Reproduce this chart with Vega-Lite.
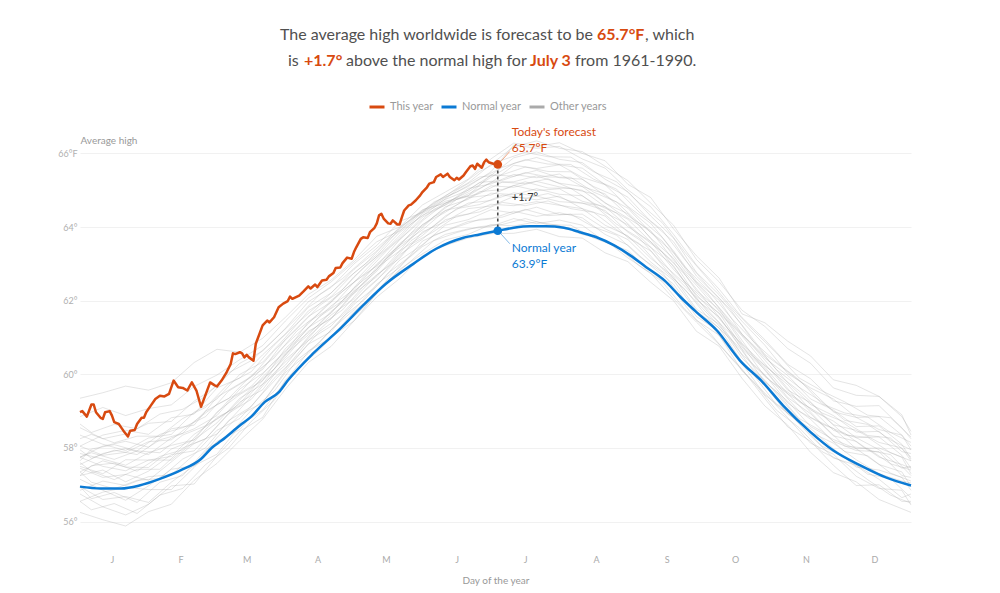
{
  "$schema": "https://vega.github.io/schema/vega-lite/v6.json",
  "width": 831,
  "height": 405,
  "autosize": {"type": "none"},
  "padding": {"left": 80, "top": 135, "right": 89, "bottom": 53},
  "background": "white",
  "config": {
    "font": "Lato",
    "view": {"stroke": null},
    "legend": {"padding": 0}
  },
  "datasets": {
    "others": [
      {"y":"a","d":1,"t":56.25},{"y":"a","d":11,"t":56.05},{"y":"a","d":21,"t":55.88},{"y":"a","d":31,"t":56.27},{"y":"a","d":41,"t":56.47},{"y":"a","d":51,"t":57.12},{"y":"a","d":61,"t":57.58},{"y":"a","d":71,"t":58.2},{"y":"a","d":81,"t":58.78},{"y":"a","d":91,"t":59.6},{"y":"a","d":101,"t":60.32},{"y":"a","d":111,"t":60.76},{"y":"a","d":121,"t":61.45},{"y":"a","d":131,"t":62.1},{"y":"a","d":141,"t":62.6},{"y":"a","d":151,"t":63.22},{"y":"a","d":161,"t":63.5},{"y":"a","d":171,"t":63.7},{"y":"a","d":181,"t":63.82},{"y":"a","d":191,"t":63.83},{"y":"a","d":201,"t":63.94},{"y":"a","d":211,"t":63.74},{"y":"a","d":221,"t":63.7},{"y":"a","d":231,"t":63.3},{"y":"a","d":241,"t":63.06},{"y":"a","d":251,"t":62.5},{"y":"a","d":261,"t":62.0},{"y":"a","d":271,"t":61.17},{"y":"a","d":281,"t":60.76},{"y":"a","d":291,"t":59.89},{"y":"a","d":301,"t":59.14},{"y":"a","d":311,"t":58.62},{"y":"a","d":321,"t":57.88},{"y":"a","d":331,"t":57.33},{"y":"a","d":341,"t":57.08},{"y":"a","d":351,"t":56.6},{"y":"a","d":361,"t":56.35},{"y":"a","d":365,"t":56.25},
      {"y":"b","d":1,"t":56.75},{"y":"b","d":11,"t":56.4},{"y":"b","d":21,"t":56.18},{"y":"b","d":31,"t":56.47},{"y":"b","d":41,"t":56.97},{"y":"b","d":51,"t":57.02},{"y":"b","d":61,"t":57.78},{"y":"b","d":71,"t":58.45},{"y":"b","d":81,"t":58.83},{"y":"b","d":91,"t":59.85},{"y":"b","d":101,"t":60.42},{"y":"b","d":111,"t":61.01},{"y":"b","d":121,"t":61.45},{"y":"b","d":131,"t":62.2},{"y":"b","d":141,"t":62.85},{"y":"b","d":151,"t":63.27},{"y":"b","d":161,"t":63.65},{"y":"b","d":171,"t":63.8},{"y":"b","d":181,"t":64.07},{"y":"b","d":191,"t":64.03},{"y":"b","d":201,"t":64.14},{"y":"b","d":211,"t":64.04},{"y":"b","d":221,"t":63.8},{"y":"b","d":231,"t":63.65},{"y":"b","d":241,"t":63.16},{"y":"b","d":251,"t":62.75},{"y":"b","d":261,"t":62.05},{"y":"b","d":271,"t":61.42},{"y":"b","d":281,"t":60.81},{"y":"b","d":291,"t":60.14},{"y":"b","d":301,"t":59.34},{"y":"b","d":311,"t":58.57},{"y":"b","d":321,"t":58.18},{"y":"b","d":331,"t":57.53},{"y":"b","d":341,"t":56.98},{"y":"b","d":351,"t":57.0},{"y":"b","d":361,"t":56.55},{"y":"b","d":365,"t":56.55},
      {"y":"c","d":1,"t":56.95},{"y":"c","d":11,"t":56.6},{"y":"c","d":21,"t":56.68},{"y":"c","d":31,"t":56.52},{"y":"c","d":41,"t":57.07},{"y":"c","d":51,"t":57.52},{"y":"c","d":61,"t":57.83},{"y":"c","d":71,"t":58.6},{"y":"c","d":81,"t":59.03},{"y":"c","d":91,"t":59.8},{"y":"c","d":101,"t":60.62},{"y":"c","d":111,"t":61.01},{"y":"c","d":121,"t":61.7},{"y":"c","d":131,"t":62.25},{"y":"c","d":141,"t":62.95},{"y":"c","d":151,"t":63.47},{"y":"c","d":161,"t":63.8},{"y":"c","d":171,"t":63.95},{"y":"c","d":181,"t":64.02},{"y":"c","d":191,"t":64.23},{"y":"c","d":201,"t":64.09},{"y":"c","d":211,"t":64.19},{"y":"c","d":221,"t":64.05},{"y":"c","d":231,"t":63.6},{"y":"c","d":241,"t":63.36},{"y":"c","d":251,"t":62.8},{"y":"c","d":261,"t":62.3},{"y":"c","d":271,"t":61.47},{"y":"c","d":281,"t":61.06},{"y":"c","d":291,"t":60.09},{"y":"c","d":301,"t":59.49},{"y":"c","d":311,"t":58.82},{"y":"c","d":321,"t":58.13},{"y":"c","d":331,"t":57.83},{"y":"c","d":341,"t":57.23},{"y":"c","d":351,"t":56.9},{"y":"c","d":361,"t":56.85},{"y":"c","d":365,"t":56.45},
      {"y":"d","d":1,"t":56.55},{"y":"d","d":11,"t":56.8},{"y":"d","d":21,"t":56.93},{"y":"d","d":31,"t":56.87},{"y":"d","d":41,"t":56.87},{"y":"d","d":51,"t":57.47},{"y":"d","d":61,"t":58.18},{"y":"d","d":71,"t":58.5},{"y":"d","d":81,"t":59.23},{"y":"d","d":91,"t":60.05},{"y":"d","d":101,"t":60.57},{"y":"d","d":111,"t":61.21},{"y":"d","d":121,"t":61.75},{"y":"d","d":131,"t":62.45},{"y":"d","d":141,"t":62.9},{"y":"d","d":151,"t":63.62},{"y":"d","d":161,"t":63.9},{"y":"d","d":171,"t":64.15},{"y":"d","d":181,"t":64.22},{"y":"d","d":191,"t":64.43},{"y":"d","d":201,"t":64.29},{"y":"d","d":211,"t":64.39},{"y":"d","d":221,"t":64.25},{"y":"d","d":231,"t":63.8},{"y":"d","d":241,"t":63.51},{"y":"d","d":251,"t":62.95},{"y":"d","d":261,"t":62.45},{"y":"d","d":271,"t":61.57},{"y":"d","d":281,"t":61.16},{"y":"d","d":291,"t":60.29},{"y":"d","d":301,"t":59.44},{"y":"d","d":311,"t":58.97},{"y":"d","d":321,"t":58.33},{"y":"d","d":331,"t":57.73},{"y":"d","d":341,"t":57.53},{"y":"d","d":351,"t":57.15},{"y":"d","d":361,"t":56.65},{"y":"d","d":365,"t":56.75},
      {"y":"e","d":1,"t":57.15},{"y":"e","d":11,"t":56.85},{"y":"e","d":21,"t":56.58},{"y":"e","d":31,"t":56.97},{"y":"e","d":41,"t":57.42},{"y":"e","d":51,"t":57.52},{"y":"e","d":61,"t":58.28},{"y":"e","d":71,"t":58.9},{"y":"e","d":81,"t":59.23},{"y":"e","d":91,"t":60.1},{"y":"e","d":101,"t":60.82},{"y":"e","d":111,"t":61.16},{"y":"e","d":121,"t":61.9},{"y":"e","d":131,"t":62.4},{"y":"e","d":141,"t":63.1},{"y":"e","d":151,"t":63.52},{"y":"e","d":161,"t":64.05},{"y":"e","d":171,"t":64.2},{"y":"e","d":181,"t":64.47},{"y":"e","d":191,"t":64.38},{"y":"e","d":201,"t":64.54},{"y":"e","d":211,"t":64.34},{"y":"e","d":221,"t":64.35},{"y":"e","d":231,"t":63.95},{"y":"e","d":241,"t":63.66},{"y":"e","d":251,"t":63.05},{"y":"e","d":261,"t":62.55},{"y":"e","d":271,"t":61.72},{"y":"e","d":281,"t":61.26},{"y":"e","d":291,"t":60.34},{"y":"e","d":301,"t":59.69},{"y":"e","d":311,"t":58.92},{"y":"e","d":321,"t":58.53},{"y":"e","d":331,"t":57.98},{"y":"e","d":341,"t":57.48},{"y":"e","d":351,"t":57.4},{"y":"e","d":361,"t":57.2},{"y":"e","d":365,"t":56.85},
      {"y":"f","d":1,"t":56.85},{"y":"f","d":11,"t":57.1},{"y":"f","d":21,"t":56.98},{"y":"f","d":31,"t":57.22},{"y":"f","d":41,"t":57.27},{"y":"f","d":51,"t":57.82},{"y":"f","d":61,"t":58.48},{"y":"f","d":71,"t":58.8},{"y":"f","d":81,"t":59.48},{"y":"f","d":91,"t":60.15},{"y":"f","d":101,"t":60.92},{"y":"f","d":111,"t":61.31},{"y":"f","d":121,"t":62.0},{"y":"f","d":131,"t":62.55},{"y":"f","d":141,"t":63.25},{"y":"f","d":151,"t":63.67},{"y":"f","d":161,"t":64.2},{"y":"f","d":171,"t":64.35},{"y":"f","d":181,"t":64.62},{"y":"f","d":191,"t":64.58},{"y":"f","d":201,"t":64.69},{"y":"f","d":211,"t":64.59},{"y":"f","d":221,"t":64.5},{"y":"f","d":231,"t":64.05},{"y":"f","d":241,"t":63.76},{"y":"f","d":251,"t":63.15},{"y":"f","d":261,"t":62.65},{"y":"f","d":271,"t":61.77},{"y":"f","d":281,"t":61.36},{"y":"f","d":291,"t":60.44},{"y":"f","d":301,"t":59.84},{"y":"f","d":311,"t":59.12},{"y":"f","d":321,"t":58.43},{"y":"f","d":331,"t":58.13},{"y":"f","d":341,"t":57.68},{"y":"f","d":351,"t":57.3},{"y":"f","d":361,"t":57.1},{"y":"f","d":365,"t":57.05},
      {"y":"g","d":1,"t":57.45},{"y":"g","d":11,"t":57.2},{"y":"g","d":21,"t":57.28},{"y":"g","d":31,"t":57.12},{"y":"g","d":41,"t":57.62},{"y":"g","d":51,"t":58.12},{"y":"g","d":61,"t":58.38},{"y":"g","d":71,"t":59.05},{"y":"g","d":81,"t":59.73},{"y":"g","d":91,"t":60.25},{"y":"g","d":101,"t":61.02},{"y":"g","d":111,"t":61.61},{"y":"g","d":121,"t":62.05},{"y":"g","d":131,"t":62.7},{"y":"g","d":141,"t":63.15},{"y":"g","d":151,"t":63.87},{"y":"g","d":161,"t":64.15},{"y":"g","d":171,"t":64.5},{"y":"g","d":181,"t":64.57},{"y":"g","d":191,"t":64.83},{"y":"g","d":201,"t":64.74},{"y":"g","d":211,"t":64.84},{"y":"g","d":221,"t":64.5},{"y":"g","d":231,"t":64.3},{"y":"g","d":241,"t":63.71},{"y":"g","d":251,"t":63.35},{"y":"g","d":261,"t":62.6},{"y":"g","d":271,"t":61.97},{"y":"g","d":281,"t":61.31},{"y":"g","d":291,"t":60.64},{"y":"g","d":301,"t":59.79},{"y":"g","d":311,"t":59.27},{"y":"g","d":321,"t":58.58},{"y":"g","d":331,"t":58.23},{"y":"g","d":341,"t":57.98},{"y":"g","d":351,"t":57.55},{"y":"g","d":361,"t":57.35},{"y":"g","d":365,"t":56.95},
      {"y":"h","d":1,"t":57.25},{"y":"h","d":11,"t":57.4},{"y":"h","d":21,"t":57.08},{"y":"h","d":31,"t":57.37},{"y":"h","d":41,"t":57.82},{"y":"h","d":51,"t":57.92},{"y":"h","d":61,"t":58.58},{"y":"h","d":71,"t":59.25},{"y":"h","d":81,"t":59.58},{"y":"h","d":91,"t":60.4},{"y":"h","d":101,"t":60.92},{"y":"h","d":111,"t":61.51},{"y":"h","d":121,"t":62.2},{"y":"h","d":131,"t":62.65},{"y":"h","d":141,"t":63.35},{"y":"h","d":151,"t":63.77},{"y":"h","d":161,"t":64.3},{"y":"h","d":171,"t":64.65},{"y":"h","d":181,"t":64.72},{"y":"h","d":191,"t":64.93},{"y":"h","d":201,"t":64.84},{"y":"h","d":211,"t":64.69},{"y":"h","d":221,"t":64.65},{"y":"h","d":231,"t":64.45},{"y":"h","d":241,"t":63.86},{"y":"h","d":251,"t":63.45},{"y":"h","d":261,"t":62.7},{"y":"h","d":271,"t":62.07},{"y":"h","d":281,"t":61.41},{"y":"h","d":291,"t":60.54},{"y":"h","d":301,"t":59.99},{"y":"h","d":311,"t":59.22},{"y":"h","d":321,"t":58.78},{"y":"h","d":331,"t":58.18},{"y":"h","d":341,"t":57.93},{"y":"h","d":351,"t":57.9},{"y":"h","d":361,"t":57.25},{"y":"h","d":365,"t":57.2},
      {"y":"i","d":1,"t":57.75},{"y":"i","d":11,"t":57.5},{"y":"i","d":21,"t":57.38},{"y":"i","d":31,"t":57.67},{"y":"i","d":41,"t":57.67},{"y":"i","d":51,"t":58.17},{"y":"i","d":61,"t":58.83},{"y":"i","d":71,"t":59.15},{"y":"i","d":81,"t":59.83},{"y":"i","d":91,"t":60.45},{"y":"i","d":101,"t":61.17},{"y":"i","d":111,"t":61.51},{"y":"i","d":121,"t":62.25},{"y":"i","d":131,"t":62.8},{"y":"i","d":141,"t":63.5},{"y":"i","d":151,"t":63.92},{"y":"i","d":161,"t":64.45},{"y":"i","d":171,"t":64.6},{"y":"i","d":181,"t":64.92},{"y":"i","d":191,"t":64.88},{"y":"i","d":201,"t":65.04},{"y":"i","d":211,"t":64.89},{"y":"i","d":221,"t":64.85},{"y":"i","d":231,"t":64.4},{"y":"i","d":241,"t":64.06},{"y":"i","d":251,"t":63.45},{"y":"i","d":261,"t":62.95},{"y":"i","d":271,"t":62.02},{"y":"i","d":281,"t":61.56},{"y":"i","d":291,"t":60.69},{"y":"i","d":301,"t":60.14},{"y":"i","d":311,"t":59.37},{"y":"i","d":321,"t":58.93},{"y":"i","d":331,"t":58.33},{"y":"i","d":341,"t":58.18},{"y":"i","d":351,"t":57.75},{"y":"i","d":361,"t":57.55},{"y":"i","d":365,"t":57.45},
      {"y":"j","d":1,"t":57.35},{"y":"j","d":11,"t":57.65},{"y":"j","d":21,"t":57.48},{"y":"j","d":31,"t":57.47},{"y":"j","d":41,"t":57.97},{"y":"j","d":51,"t":58.22},{"y":"j","d":61,"t":58.68},{"y":"j","d":71,"t":59.35},{"y":"j","d":81,"t":59.73},{"y":"j","d":91,"t":60.55},{"y":"j","d":101,"t":61.07},{"y":"j","d":111,"t":61.71},{"y":"j","d":121,"t":62.2},{"y":"j","d":131,"t":62.9},{"y":"j","d":141,"t":63.35},{"y":"j","d":151,"t":64.07},{"y":"j","d":161,"t":64.4},{"y":"j","d":171,"t":64.8},{"y":"j","d":181,"t":64.87},{"y":"j","d":191,"t":65.13},{"y":"j","d":201,"t":64.99},{"y":"j","d":211,"t":65.04},{"y":"j","d":221,"t":64.7},{"y":"j","d":231,"t":64.55},{"y":"j","d":241,"t":64.01},{"y":"j","d":251,"t":63.6},{"y":"j","d":261,"t":62.85},{"y":"j","d":271,"t":62.17},{"y":"j","d":281,"t":61.51},{"y":"j","d":291,"t":60.79},{"y":"j","d":301,"t":59.94},{"y":"j","d":311,"t":59.47},{"y":"j","d":321,"t":58.83},{"y":"j","d":331,"t":58.53},{"y":"j","d":341,"t":57.98},{"y":"j","d":351,"t":58.0},{"y":"j","d":361,"t":57.75},{"y":"j","d":365,"t":57.3},
      {"y":"k","d":1,"t":57.5},{"y":"k","d":11,"t":57.3},{"y":"k","d":21,"t":57.68},{"y":"k","d":31,"t":57.67},{"y":"k","d":41,"t":57.77},{"y":"k","d":51,"t":58.37},{"y":"k","d":61,"t":58.78},{"y":"k","d":71,"t":59.2},{"y":"k","d":81,"t":59.93},{"y":"k","d":91,"t":60.55},{"y":"k","d":101,"t":61.27},{"y":"k","d":111,"t":61.66},{"y":"k","d":121,"t":62.35},{"y":"k","d":131,"t":62.85},{"y":"k","d":141,"t":63.55},{"y":"k","d":151,"t":64.02},{"y":"k","d":161,"t":64.55},{"y":"k","d":171,"t":64.75},{"y":"k","d":181,"t":65.12},{"y":"k","d":191,"t":65.08},{"y":"k","d":201,"t":65.24},{"y":"k","d":211,"t":65.09},{"y":"k","d":221,"t":65.0},{"y":"k","d":231,"t":64.55},{"y":"k","d":241,"t":64.21},{"y":"k","d":251,"t":63.6},{"y":"k","d":261,"t":63.05},{"y":"k","d":271,"t":62.12},{"y":"k","d":281,"t":61.66},{"y":"k","d":291,"t":60.74},{"y":"k","d":301,"t":60.19},{"y":"k","d":311,"t":59.47},{"y":"k","d":321,"t":59.08},{"y":"k","d":331,"t":58.48},{"y":"k","d":341,"t":58.28},{"y":"k","d":351,"t":57.95},{"y":"k","d":361,"t":57.45},{"y":"k","d":365,"t":57.5},
      {"y":"l","d":1,"t":57.85},{"y":"l","d":11,"t":57.7},{"y":"l","d":21,"t":57.53},{"y":"l","d":31,"t":57.87},{"y":"l","d":41,"t":58.07},{"y":"l","d":51,"t":58.22},{"y":"l","d":61,"t":58.98},{"y":"l","d":71,"t":59.45},{"y":"l","d":81,"t":59.83},{"y":"l","d":91,"t":60.7},{"y":"l","d":101,"t":61.27},{"y":"l","d":111,"t":61.86},{"y":"l","d":121,"t":62.3},{"y":"l","d":131,"t":63.0},{"y":"l","d":141,"t":63.5},{"y":"l","d":151,"t":64.17},{"y":"l","d":161,"t":64.65},{"y":"l","d":171,"t":64.85},{"y":"l","d":181,"t":65.22},{"y":"l","d":191,"t":65.23},{"y":"l","d":201,"t":65.39},{"y":"l","d":211,"t":65.19},{"y":"l","d":221,"t":65.1},{"y":"l","d":231,"t":64.65},{"y":"l","d":241,"t":64.36},{"y":"l","d":251,"t":63.7},{"y":"l","d":261,"t":63.15},{"y":"l","d":271,"t":62.27},{"y":"l","d":281,"t":61.76},{"y":"l","d":291,"t":60.84},{"y":"l","d":301,"t":60.24},{"y":"l","d":311,"t":59.72},{"y":"l","d":321,"t":59.03},{"y":"l","d":331,"t":58.73},{"y":"l","d":341,"t":58.28},{"y":"l","d":351,"t":58.3},{"y":"l","d":361,"t":57.8},{"y":"l","d":365,"t":57.45},
      {"y":"m","d":1,"t":57.55},{"y":"m","d":11,"t":57.85},{"y":"m","d":21,"t":57.98},{"y":"m","d":31,"t":57.82},{"y":"m","d":41,"t":58.27},{"y":"m","d":51,"t":58.52},{"y":"m","d":61,"t":58.88},{"y":"m","d":71,"t":59.6},{"y":"m","d":81,"t":60.03},{"y":"m","d":91,"t":60.6},{"y":"m","d":101,"t":61.42},{"y":"m","d":111,"t":61.81},{"y":"m","d":121,"t":62.5},{"y":"m","d":131,"t":62.95},{"y":"m","d":141,"t":63.65},{"y":"m","d":151,"t":64.27},{"y":"m","d":161,"t":64.6},{"y":"m","d":171,"t":65.05},{"y":"m","d":181,"t":65.17},{"y":"m","d":191,"t":65.43},{"y":"m","d":201,"t":65.34},{"y":"m","d":211,"t":65.44},{"y":"m","d":221,"t":65.1},{"y":"m","d":231,"t":64.9},{"y":"m","d":241,"t":64.31},{"y":"m","d":251,"t":63.9},{"y":"m","d":261,"t":63.1},{"y":"m","d":271,"t":62.42},{"y":"m","d":281,"t":61.71},{"y":"m","d":291,"t":61.04},{"y":"m","d":301,"t":60.29},{"y":"m","d":311,"t":59.57},{"y":"m","d":321,"t":59.23},{"y":"m","d":331,"t":58.63},{"y":"m","d":341,"t":58.48},{"y":"m","d":351,"t":58.15},{"y":"m","d":361,"t":58.0},{"y":"m","d":365,"t":57.65},
      {"y":"n","d":1,"t":58.05},{"y":"n","d":11,"t":57.8},{"y":"n","d":21,"t":57.88},{"y":"n","d":31,"t":58.17},{"y":"n","d":41,"t":58.22},{"y":"n","d":51,"t":58.72},{"y":"n","d":61,"t":59.18},{"y":"n","d":71,"t":59.5},{"y":"n","d":81,"t":60.18},{"y":"n","d":91,"t":60.8},{"y":"n","d":101,"t":61.37},{"y":"n","d":111,"t":62.01},{"y":"n","d":121,"t":62.5},{"y":"n","d":131,"t":63.15},{"y":"n","d":141,"t":63.7},{"y":"n","d":151,"t":64.37},{"y":"n","d":161,"t":64.7},{"y":"n","d":171,"t":64.85},{"y":"n","d":181,"t":65.42},{"y":"n","d":191,"t":65.38},{"y":"n","d":201,"t":65.54},{"y":"n","d":211,"t":65.34},{"y":"n","d":221,"t":65.3},{"y":"n","d":231,"t":64.85},{"y":"n","d":241,"t":64.51},{"y":"n","d":251,"t":63.85},{"y":"n","d":261,"t":63.3},{"y":"n","d":271,"t":62.47},{"y":"n","d":281,"t":61.81},{"y":"n","d":291,"t":61.09},{"y":"n","d":301,"t":60.49},{"y":"n","d":311,"t":59.77},{"y":"n","d":321,"t":59.18},{"y":"n","d":331,"t":58.88},{"y":"n","d":341,"t":58.43},{"y":"n","d":351,"t":58.45},{"y":"n","d":361,"t":57.9},{"y":"n","d":365,"t":57.85},
      {"y":"o","d":1,"t":57.75},{"y":"o","d":11,"t":58.05},{"y":"o","d":21,"t":58.18},{"y":"o","d":31,"t":58.02},{"y":"o","d":41,"t":58.52},{"y":"o","d":51,"t":58.62},{"y":"o","d":61,"t":59.38},{"y":"o","d":71,"t":59.75},{"y":"o","d":81,"t":60.13},{"y":"o","d":91,"t":60.95},{"y":"o","d":101,"t":61.57},{"y":"o","d":111,"t":61.96},{"y":"o","d":121,"t":62.65},{"y":"o","d":131,"t":63.2},{"y":"o","d":141,"t":63.85},{"y":"o","d":151,"t":64.32},{"y":"o","d":161,"t":64.6},{"y":"o","d":171,"t":64.9},{"y":"o","d":181,"t":65.2},{"y":"o","d":191,"t":65.68},{"y":"o","d":201,"t":65.59},{"y":"o","d":211,"t":65.69},{"y":"o","d":221,"t":65.35},{"y":"o","d":231,"t":65.15},{"y":"o","d":241,"t":64.56},{"y":"o","d":251,"t":64.1},{"y":"o","d":261,"t":63.35},{"y":"o","d":271,"t":62.52},{"y":"o","d":281,"t":62.01},{"y":"o","d":291,"t":61.09},{"y":"o","d":301,"t":60.44},{"y":"o","d":311,"t":59.97},{"y":"o","d":321,"t":59.33},{"y":"o","d":331,"t":59.03},{"y":"o","d":341,"t":58.58},{"y":"o","d":351,"t":58.6},{"y":"o","d":361,"t":58.1},{"y":"o","d":365,"t":57.7},
      {"y":"p","d":1,"t":58.35},{"y":"p","d":11,"t":58.1},{"y":"p","d":21,"t":57.93},{"y":"p","d":31,"t":58.27},{"y":"p","d":41,"t":58.37},{"y":"p","d":51,"t":58.97},{"y":"p","d":61,"t":59.33},{"y":"p","d":71,"t":60.0},{"y":"p","d":81,"t":60.33},{"y":"p","d":91,"t":61.0},{"y":"p","d":101,"t":61.72},{"y":"p","d":111,"t":62.11},{"y":"p","d":121,"t":62.75},{"y":"p","d":131,"t":63.25},{"y":"p","d":141,"t":63.95},{"y":"p","d":151,"t":64.47},{"y":"p","d":161,"t":64.65},{"y":"p","d":171,"t":64.95},{"y":"p","d":181,"t":65.35},{"y":"p","d":191,"t":65.73},{"y":"p","d":201,"t":65.89},{"y":"p","d":211,"t":65.69},{"y":"p","d":221,"t":65.6},{"y":"p","d":231,"t":65.15},{"y":"p","d":241,"t":64.81},{"y":"p","d":251,"t":64.15},{"y":"p","d":261,"t":63.6},{"y":"p","d":271,"t":62.67},{"y":"p","d":281,"t":62.06},{"y":"p","d":291,"t":61.34},{"y":"p","d":301,"t":60.54},{"y":"p","d":311,"t":60.07},{"y":"p","d":321,"t":59.58},{"y":"p","d":331,"t":58.98},{"y":"p","d":341,"t":58.83},{"y":"p","d":351,"t":58.5},{"y":"p","d":361,"t":58.35},{"y":"p","d":365,"t":57.95},
      {"y":"q","d":1,"t":58.05},{"y":"q","d":11,"t":58.35},{"y":"q","d":21,"t":58.48},{"y":"q","d":31,"t":58.37},{"y":"q","d":41,"t":58.82},{"y":"q","d":51,"t":58.92},{"y":"q","d":61,"t":59.63},{"y":"q","d":71,"t":59.9},{"y":"q","d":81,"t":60.53},{"y":"q","d":91,"t":61.1},{"y":"q","d":101,"t":61.82},{"y":"q","d":111,"t":62.21},{"y":"q","d":121,"t":62.85},{"y":"q","d":131,"t":63.35},{"y":"q","d":141,"t":64.0},{"y":"q","d":151,"t":64.4},{"y":"q","d":161,"t":64.75},{"y":"q","d":171,"t":65.0},{"y":"q","d":181,"t":65.4},{"y":"q","d":191,"t":65.88},{"y":"q","d":201,"t":66.04},{"y":"q","d":211,"t":65.84},{"y":"q","d":221,"t":65.75},{"y":"q","d":231,"t":65.3},{"y":"q","d":241,"t":64.96},{"y":"q","d":251,"t":64.3},{"y":"q","d":261,"t":63.7},{"y":"q","d":271,"t":62.77},{"y":"q","d":281,"t":62.16},{"y":"q","d":291,"t":61.44},{"y":"q","d":301,"t":60.79},{"y":"q","d":311,"t":60.02},{"y":"q","d":321,"t":59.63},{"y":"q","d":331,"t":59.33},{"y":"q","d":341,"t":58.83},{"y":"q","d":351,"t":58.85},{"y":"q","d":361,"t":58.35},{"y":"q","d":365,"t":58.05},
      {"y":"r","d":1,"t":58.55},{"y":"r","d":11,"t":58.25},{"y":"r","d":21,"t":58.38},{"y":"r","d":31,"t":58.67},{"y":"r","d":41,"t":58.72},{"y":"r","d":51,"t":59.27},{"y":"r","d":61,"t":59.68},{"y":"r","d":71,"t":60.3},{"y":"r","d":81,"t":60.63},{"y":"r","d":91,"t":61.25},{"y":"r","d":101,"t":61.97},{"y":"r","d":111,"t":62.36},{"y":"r","d":121,"t":63.0},{"y":"r","d":131,"t":63.5},{"y":"r","d":141,"t":64.15},{"y":"r","d":151,"t":64.4},{"y":"r","d":161,"t":64.8},{"y":"r","d":171,"t":65.1},{"y":"r","d":181,"t":65.5},{"y":"r","d":191,"t":66.23},{"y":"r","d":201,"t":66.14},{"y":"r","d":211,"t":66.19},{"y":"r","d":221,"t":65.85},{"y":"r","d":231,"t":65.6},{"y":"r","d":241,"t":65.01},{"y":"r","d":251,"t":64.55},{"y":"r","d":261,"t":63.8},{"y":"r","d":271,"t":62.97},{"y":"r","d":281,"t":62.31},{"y":"r","d":291,"t":61.54},{"y":"r","d":301,"t":60.94},{"y":"r","d":311,"t":60.27},{"y":"r","d":321,"t":59.88},{"y":"r","d":331,"t":59.28},{"y":"r","d":341,"t":59.13},{"y":"r","d":351,"t":59.15},{"y":"r","d":361,"t":58.55},{"y":"r","d":365,"t":58.25},
      {"y":"s","d":1,"t":58.85},{"y":"s","d":11,"t":59.1},{"y":"s","d":21,"t":58.88},{"y":"s","d":31,"t":59.07},{"y":"s","d":41,"t":59.17},{"y":"s","d":51,"t":59.67},{"y":"s","d":61,"t":59.98},{"y":"s","d":71,"t":60.4},{"y":"s","d":81,"t":60.78},{"y":"s","d":91,"t":61.45},{"y":"s","d":101,"t":62.07},{"y":"s","d":111,"t":62.51},{"y":"s","d":121,"t":63.05},{"y":"s","d":131,"t":63.6},{"y":"s","d":141,"t":63.9},{"y":"s","d":151,"t":64.45},{"y":"s","d":161,"t":64.85},{"y":"s","d":171,"t":65.2},{"y":"s","d":181,"t":65.7},{"y":"s","d":191,"t":66.18},{"y":"s","d":201,"t":66.34},{"y":"s","d":211,"t":66.14},{"y":"s","d":221,"t":66.05},{"y":"s","d":231,"t":65.65},{"y":"s","d":241,"t":65.26},{"y":"s","d":251,"t":64.65},{"y":"s","d":261,"t":64.05},{"y":"s","d":271,"t":63.12},{"y":"s","d":281,"t":62.51},{"y":"s","d":291,"t":61.74},{"y":"s","d":301,"t":61.3},{"y":"s","d":311,"t":60.7},{"y":"s","d":321,"t":60.3},{"y":"s","d":331,"t":59.63},{"y":"s","d":341,"t":59.43},{"y":"s","d":351,"t":59.4},{"y":"s","d":361,"t":58.85},{"y":"s","d":365,"t":58.45},
      {"y":"t","d":1,"t":59.35},{"y":"t","d":11,"t":59.5},{"y":"t","d":21,"t":59.68},{"y":"t","d":31,"t":59.57},{"y":"t","d":41,"t":59.77},{"y":"t","d":51,"t":60.32},{"y":"t","d":61,"t":60.68},{"y":"t","d":71,"t":60.6},{"y":"t","d":81,"t":60.98},{"y":"t","d":91,"t":61.55},{"y":"t","d":101,"t":62.17},{"y":"t","d":111,"t":62.56},{"y":"t","d":121,"t":63.1},{"y":"t","d":131,"t":63.75},{"y":"t","d":141,"t":64.0},{"y":"t","d":151,"t":64.6},{"y":"t","d":161,"t":64.95},{"y":"t","d":171,"t":65.3},{"y":"t","d":181,"t":65.85},{"y":"t","d":191,"t":66.28},{"y":"t","d":201,"t":66.19},{"y":"t","d":211,"t":66.29},{"y":"t","d":221,"t":66.0},{"y":"t","d":231,"t":65.8},{"y":"t","d":241,"t":65.16},{"y":"t","d":251,"t":64.8},{"y":"t","d":261,"t":63.95},{"y":"t","d":271,"t":63.22},{"y":"t","d":281,"t":62.61},{"y":"t","d":291,"t":61.64},{"y":"t","d":301,"t":61.4},{"y":"t","d":311,"t":60.9},{"y":"t","d":321,"t":60.5},{"y":"t","d":331,"t":59.85},{"y":"t","d":341,"t":59.7},{"y":"t","d":351,"t":59.4},{"y":"t","d":361,"t":58.9},{"y":"t","d":365,"t":58.35},
      {"y":"u","d":1,"t":56.95},{"y":"u","d":6,"t":56.62},{"y":"u","d":16,"t":56.79},{"y":"u","d":26,"t":56.52},{"y":"u","d":36,"t":57.07},{"y":"u","d":46,"t":57.25},{"y":"u","d":56,"t":57.95},{"y":"u","d":66,"t":58.34},{"y":"u","d":76,"t":59.02},{"y":"u","d":86,"t":59.54},{"y":"u","d":96,"t":60.38},{"y":"u","d":106,"t":60.87},{"y":"u","d":116,"t":61.55},{"y":"u","d":126,"t":62.05},{"y":"u","d":136,"t":62.75},{"y":"u","d":146,"t":63.23},{"y":"u","d":156,"t":63.78},{"y":"u","d":166,"t":64.0},{"y":"u","d":176,"t":64.21},{"y":"u","d":186,"t":64.27},{"y":"u","d":196,"t":64.48},{"y":"u","d":206,"t":64.31},{"y":"u","d":216,"t":64.35},{"y":"u","d":226,"t":64.0},{"y":"u","d":236,"t":63.78},{"y":"u","d":246,"t":63.2},{"y":"u","d":256,"t":62.77},{"y":"u","d":266,"t":61.96},{"y":"u","d":276,"t":61.44},{"y":"u","d":286,"t":60.65},{"y":"u","d":296,"t":59.99},{"y":"u","d":306,"t":59.18},{"y":"u","d":316,"t":58.7},{"y":"u","d":326,"t":58.05},{"y":"u","d":336,"t":57.75},{"y":"u","d":346,"t":57.29},{"y":"u","d":356,"t":57.17},{"y":"u","d":365,"t":56.65},
      {"y":"v","d":1,"t":57.35},{"y":"v","d":6,"t":57.07},{"y":"v","d":16,"t":56.89},{"y":"v","d":26,"t":57.12},{"y":"v","d":36,"t":57.17},{"y":"v","d":46,"t":57.7},{"y":"v","d":56,"t":58.0},{"y":"v","d":66,"t":58.74},{"y":"v","d":76,"t":59.12},{"y":"v","d":86,"t":59.89},{"y":"v","d":96,"t":60.48},{"y":"v","d":106,"t":61.17},{"y":"v","d":116,"t":61.6},{"y":"v","d":126,"t":62.3},{"y":"v","d":136,"t":62.85},{"y":"v","d":146,"t":63.53},{"y":"v","d":156,"t":63.88},{"y":"v","d":166,"t":64.3},{"y":"v","d":176,"t":64.41},{"y":"v","d":186,"t":64.67},{"y":"v","d":196,"t":64.58},{"y":"v","d":206,"t":64.71},{"y":"v","d":216,"t":64.5},{"y":"v","d":226,"t":64.4},{"y":"v","d":236,"t":63.93},{"y":"v","d":246,"t":63.55},{"y":"v","d":256,"t":62.87},{"y":"v","d":266,"t":62.31},{"y":"v","d":276,"t":61.54},{"y":"v","d":286,"t":60.95},{"y":"v","d":296,"t":60.09},{"y":"v","d":306,"t":59.53},{"y":"v","d":316,"t":58.8},{"y":"v","d":326,"t":58.45},{"y":"v","d":336,"t":57.9},{"y":"v","d":346,"t":57.79},{"y":"v","d":356,"t":57.32},{"y":"v","d":365,"t":57.1},
      {"y":"w","d":1,"t":57.6},{"y":"w","d":6,"t":57.37},{"y":"w","d":16,"t":57.14},{"y":"w","d":26,"t":57.42},{"y":"w","d":36,"t":57.42},{"y":"w","d":46,"t":58.0},{"y":"w","d":56,"t":58.25},{"y":"w","d":66,"t":58.94},{"y":"w","d":76,"t":59.32},{"y":"w","d":86,"t":60.04},{"y":"w","d":96,"t":60.63},{"y":"w","d":106,"t":61.32},{"y":"w","d":116,"t":61.75},{"y":"w","d":126,"t":62.45},{"y":"w","d":136,"t":62.95},{"y":"w","d":146,"t":63.63},{"y":"w","d":156,"t":64.03},{"y":"w","d":166,"t":64.5},{"y":"w","d":176,"t":64.61},{"y":"w","d":186,"t":64.87},{"y":"w","d":196,"t":64.78},{"y":"w","d":206,"t":64.91},{"y":"w","d":216,"t":64.7},{"y":"w","d":226,"t":64.6},{"y":"w","d":236,"t":64.08},{"y":"w","d":246,"t":63.7},{"y":"w","d":256,"t":63.02},{"y":"w","d":266,"t":62.46},{"y":"w","d":276,"t":61.69},{"y":"w","d":286,"t":61.1},{"y":"w","d":296,"t":60.24},{"y":"w","d":306,"t":59.68},{"y":"w","d":316,"t":59.0},{"y":"w","d":326,"t":58.65},{"y":"w","d":336,"t":58.05},{"y":"w","d":346,"t":57.99},{"y":"w","d":356,"t":57.57},{"y":"w","d":365,"t":57.4},
      {"y":"x","d":1,"t":57.25},{"y":"x","d":6,"t":57.52},{"y":"x","d":16,"t":57.59},{"y":"x","d":26,"t":57.37},{"y":"x","d":36,"t":57.77},{"y":"x","d":46,"t":57.95},{"y":"x","d":56,"t":58.6},{"y":"x","d":66,"t":58.99},{"y":"x","d":76,"t":59.62},{"y":"x","d":86,"t":60.14},{"y":"x","d":96,"t":60.88},{"y":"x","d":106,"t":61.37},{"y":"x","d":116,"t":62.0},{"y":"x","d":126,"t":62.5},{"y":"x","d":136,"t":63.2},{"y":"x","d":146,"t":63.68},{"y":"x","d":156,"t":64.28},{"y":"x","d":166,"t":64.6},{"y":"x","d":176,"t":64.96},{"y":"x","d":186,"t":65.02},{"y":"x","d":196,"t":65.23},{"y":"x","d":206,"t":65.06},{"y":"x","d":216,"t":65.05},{"y":"x","d":226,"t":64.65},{"y":"x","d":236,"t":64.38},{"y":"x","d":246,"t":63.8},{"y":"x","d":256,"t":63.32},{"y":"x","d":266,"t":62.51},{"y":"x","d":276,"t":61.94},{"y":"x","d":286,"t":61.15},{"y":"x","d":296,"t":60.49},{"y":"x","d":306,"t":59.73},{"y":"x","d":316,"t":59.3},{"y":"x","d":326,"t":58.65},{"y":"x","d":336,"t":58.4},{"y":"x","d":346,"t":57.94},{"y":"x","d":356,"t":57.82},{"y":"x","d":365,"t":57.25},
      {"y":"z","d":1,"t":57.75},{"y":"z","d":6,"t":57.87},{"y":"z","d":16,"t":57.69},{"y":"z","d":26,"t":57.92},{"y":"z","d":36,"t":57.87},{"y":"z","d":46,"t":58.35},{"y":"z","d":56,"t":58.6},{"y":"z","d":66,"t":59.29},{"y":"z","d":76,"t":59.67},{"y":"z","d":86,"t":60.34},{"y":"z","d":96,"t":60.93},{"y":"z","d":106,"t":61.57},{"y":"z","d":116,"t":62.0},{"y":"z","d":126,"t":62.7},{"y":"z","d":136,"t":63.2},{"y":"z","d":146,"t":63.83},{"y":"z","d":156,"t":64.28},{"y":"z","d":166,"t":64.75},{"y":"z","d":176,"t":64.91},{"y":"z","d":186,"t":65.22},{"y":"z","d":196,"t":65.18},{"y":"z","d":206,"t":65.31},{"y":"z","d":216,"t":65.05},{"y":"z","d":226,"t":64.9},{"y":"z","d":236,"t":64.43},{"y":"z","d":246,"t":64.05},{"y":"z","d":256,"t":63.32},{"y":"z","d":266,"t":62.71},{"y":"z","d":276,"t":61.94},{"y":"z","d":286,"t":61.35},{"y":"z","d":296,"t":60.49},{"y":"z","d":306,"t":59.98},{"y":"z","d":316,"t":59.25},{"y":"z","d":326,"t":58.9},{"y":"z","d":336,"t":58.35},{"y":"z","d":346,"t":58.29},{"y":"z","d":356,"t":57.87},{"y":"z","d":365,"t":57.65},
      {"y":"A","d":1,"t":57.95},{"y":"A","d":6,"t":57.72},{"y":"A","d":16,"t":57.94},{"y":"A","d":26,"t":57.82},{"y":"A","d":36,"t":58.22},{"y":"A","d":46,"t":58.4},{"y":"A","d":56,"t":59.0},{"y":"A","d":66,"t":59.34},{"y":"A","d":76,"t":59.97},{"y":"A","d":86,"t":60.44},{"y":"A","d":96,"t":61.18},{"y":"A","d":106,"t":61.67},{"y":"A","d":116,"t":62.25},{"y":"A","d":126,"t":62.75},{"y":"A","d":136,"t":63.4},{"y":"A","d":146,"t":63.93},{"y":"A","d":156,"t":64.48},{"y":"A","d":166,"t":64.8},{"y":"A","d":176,"t":65.21},{"y":"A","d":186,"t":65.27},{"y":"A","d":196,"t":65.48},{"y":"A","d":206,"t":65.36},{"y":"A","d":216,"t":65.35},{"y":"A","d":226,"t":64.95},{"y":"A","d":236,"t":64.68},{"y":"A","d":246,"t":64.1},{"y":"A","d":256,"t":63.62},{"y":"A","d":266,"t":62.81},{"y":"A","d":276,"t":62.19},{"y":"A","d":286,"t":61.4},{"y":"A","d":296,"t":60.74},{"y":"A","d":306,"t":60.03},{"y":"A","d":316,"t":59.55},{"y":"A","d":326,"t":58.95},{"y":"A","d":336,"t":58.7},{"y":"A","d":346,"t":58.34},{"y":"A","d":356,"t":58.27},{"y":"A","d":365,"t":57.75},
      {"y":"B","d":1,"t":57.65},{"y":"B","d":6,"t":57.97},{"y":"B","d":16,"t":58.09},{"y":"B","d":26,"t":57.92},{"y":"B","d":36,"t":58.37},{"y":"B","d":46,"t":58.55},{"y":"B","d":56,"t":58.85},{"y":"B","d":66,"t":59.54},{"y":"B","d":76,"t":59.92},{"y":"B","d":86,"t":60.64},{"y":"B","d":96,"t":61.23},{"y":"B","d":106,"t":61.87},{"y":"B","d":116,"t":62.3},{"y":"B","d":126,"t":62.95},{"y":"B","d":136,"t":63.45},{"y":"B","d":146,"t":64.08},{"y":"B","d":156,"t":64.53},{"y":"B","d":166,"t":65.0},{"y":"B","d":176,"t":65.36},{"y":"B","d":186,"t":65.42},{"y":"B","d":196,"t":65.63},{"y":"B","d":206,"t":65.51},{"y":"B","d":216,"t":65.5},{"y":"B","d":226,"t":65.1},{"y":"B","d":236,"t":64.83},{"y":"B","d":246,"t":64.25},{"y":"B","d":256,"t":63.72},{"y":"B","d":266,"t":62.91},{"y":"B","d":276,"t":62.29},{"y":"B","d":286,"t":61.55},{"y":"B","d":296,"t":60.89},{"y":"B","d":306,"t":60.13},{"y":"B","d":316,"t":59.65},{"y":"B","d":326,"t":59.25},{"y":"B","d":336,"t":58.75},{"y":"B","d":346,"t":58.64},{"y":"B","d":356,"t":58.22},{"y":"B","d":365,"t":57.95},
      {"y":"C","d":1,"t":58.25},{"y":"C","d":6,"t":58.37},{"y":"C","d":16,"t":58.14},{"y":"C","d":26,"t":58.32},{"y":"C","d":36,"t":58.32},{"y":"C","d":46,"t":58.8},{"y":"C","d":56,"t":59.1},{"y":"C","d":66,"t":59.74},{"y":"C","d":76,"t":60.07},{"y":"C","d":86,"t":60.79},{"y":"C","d":96,"t":61.38},{"y":"C","d":106,"t":61.92},{"y":"C","d":116,"t":62.5},{"y":"C","d":126,"t":63.0},{"y":"C","d":136,"t":63.65},{"y":"C","d":146,"t":64.13},{"y":"C","d":156,"t":64.68},{"y":"C","d":166,"t":64.95},{"y":"C","d":176,"t":65.31},{"y":"C","d":186,"t":65.62},{"y":"C","d":196,"t":65.83},{"y":"C","d":206,"t":65.71},{"y":"C","d":216,"t":65.7},{"y":"C","d":226,"t":65.3},{"y":"C","d":236,"t":65.03},{"y":"C","d":246,"t":64.4},{"y":"C","d":256,"t":63.92},{"y":"C","d":266,"t":63.11},{"y":"C","d":276,"t":62.39},{"y":"C","d":286,"t":61.75},{"y":"C","d":296,"t":60.89},{"y":"C","d":306,"t":60.33},{"y":"C","d":316,"t":59.85},{"y":"C","d":326,"t":59.2},{"y":"C","d":336,"t":58.95},{"y":"C","d":346,"t":58.84},{"y":"C","d":356,"t":58.42},{"y":"C","d":365,"t":58.15},
      {"y":"D","d":1,"t":58.65},{"y":"D","d":6,"t":58.42},{"y":"D","d":16,"t":58.64},{"y":"D","d":26,"t":58.52},{"y":"D","d":36,"t":58.92},{"y":"D","d":46,"t":59.05},{"y":"D","d":56,"t":59.4},{"y":"D","d":66,"t":60.04},{"y":"D","d":76,"t":60.37},{"y":"D","d":86,"t":60.94},{"y":"D","d":96,"t":61.53},{"y":"D","d":106,"t":62.17},{"y":"D","d":116,"t":62.6},{"y":"D","d":126,"t":63.15},{"y":"D","d":136,"t":63.7},{"y":"D","d":146,"t":64.23},{"y":"D","d":156,"t":64.63},{"y":"D","d":166,"t":65.05},{"y":"D","d":176,"t":65.51},{"y":"D","d":186,"t":65.82},{"y":"D","d":196,"t":66.03},{"y":"D","d":206,"t":65.91},{"y":"D","d":216,"t":65.9},{"y":"D","d":226,"t":65.5},{"y":"D","d":236,"t":65.23},{"y":"D","d":246,"t":64.65},{"y":"D","d":256,"t":64.12},{"y":"D","d":266,"t":63.31},{"y":"D","d":276,"t":62.59},{"y":"D","d":286,"t":61.85},{"y":"D","d":296,"t":61.19},{"y":"D","d":306,"t":60.58},{"y":"D","d":316,"t":59.9},{"y":"D","d":326,"t":59.55},{"y":"D","d":336,"t":59.25},{"y":"D","d":346,"t":58.89},{"y":"D","d":356,"t":58.82},{"y":"D","d":365,"t":58.3},
      {"y":"E","d":1,"t":56.55},{"y":"E","d":6,"t":56.32},{"y":"E","d":16,"t":56.49},{"y":"E","d":26,"t":56.22},{"y":"E","d":36,"t":56.72},{"y":"E","d":46,"t":56.9},{"y":"E","d":56,"t":57.55},{"y":"E","d":66,"t":57.99},{"y":"E","d":76,"t":58.72},{"y":"E","d":86,"t":59.29},{"y":"E","d":96,"t":60.13},{"y":"E","d":106,"t":60.67},{"y":"E","d":116,"t":61.3},{"y":"E","d":126,"t":61.85},{"y":"E","d":136,"t":62.55},{"y":"E","d":146,"t":63.08},{"y":"E","d":156,"t":63.63},{"y":"E","d":166,"t":63.85},{"y":"E","d":176,"t":64.01},{"y":"E","d":186,"t":64.07},{"y":"E","d":196,"t":64.23},{"y":"E","d":206,"t":64.06},{"y":"E","d":216,"t":64.05},{"y":"E","d":226,"t":63.7},{"y":"E","d":236,"t":63.48},{"y":"E","d":246,"t":62.95},{"y":"E","d":256,"t":62.52},{"y":"E","d":266,"t":61.76},{"y":"E","d":276,"t":61.19},{"y":"E","d":286,"t":60.45},{"y":"E","d":296,"t":59.79},{"y":"E","d":306,"t":59.03},{"y":"E","d":316,"t":58.55},{"y":"E","d":326,"t":57.9},{"y":"E","d":336,"t":57.6},{"y":"E","d":346,"t":57.14},{"y":"E","d":356,"t":56.72},{"y":"E","d":365,"t":56.5}
    ],
    "normal": [
      {"d":1,"t":56.95},{"d":10,"t":56.9},{"d":19,"t":56.9},{"d":27,"t":56.98},{"d":36,"t":57.16},{"d":45,"t":57.39},{"d":54,"t":57.7},{"d":59,"t":58.02},{"d":63,"t":58.2},{"d":71,"t":58.61},{"d":76,"t":58.85},{"d":82,"t":59.25},{"d":88,"t":59.51},{"d":92,"t":59.83},{"d":103,"t":60.56},{"d":115,"t":61.24},{"d":125,"t":61.87},{"d":135,"t":62.46},{"d":147,"t":63.0},{"d":157,"t":63.41},{"d":169,"t":63.71},{"d":176,"t":63.8},{"d":184,"t":63.9},{"d":191,"t":63.98},{"d":198,"t":64.02},{"d":205,"t":64.02},{"d":213,"t":63.98},{"d":220,"t":63.86},{"d":227,"t":63.73},{"d":235,"t":63.5},{"d":242,"t":63.23},{"d":249,"t":62.91},{"d":257,"t":62.55},{"d":264,"t":62.1},{"d":271,"t":61.69},{"d":280,"t":61.19},{"d":290,"t":60.38},{"d":300,"t":59.79},{"d":309,"t":59.15},{"d":321,"t":58.43},{"d":331,"t":57.93},{"d":343,"t":57.52},{"d":354,"t":57.2},{"d":365,"t":56.98}
    ],
    "thisYear": [
      {"d":1,"t":58.97},{"d":2,"t":59.0},{"d":4,"t":58.85},{"d":6,"t":59.18},{"d":7,"t":59.18},{"d":8,"t":58.97},{"d":10,"t":58.82},{"d":11,"t":58.79},{"d":12,"t":58.97},{"d":14,"t":59.0},{"d":15,"t":58.88},{"d":16,"t":58.7},{"d":18,"t":58.65},{"d":19,"t":58.56},{"d":20,"t":58.47},{"d":22,"t":58.31},{"d":23,"t":58.47},{"d":25,"t":58.49},{"d":26,"t":58.65},{"d":28,"t":58.82},{"d":29,"t":58.82},{"d":30,"t":58.97},{"d":32,"t":59.15},{"d":34,"t":59.33},{"d":36,"t":59.42},{"d":38,"t":59.4},{"d":40,"t":59.47},{"d":42,"t":59.83},{"d":44,"t":59.65},{"d":46,"t":59.63},{"d":48,"t":59.56},{"d":49,"t":59.67},{"d":50,"t":59.78},{"d":52,"t":59.56},{"d":54,"t":59.12},{"d":55,"t":59.28},{"d":58,"t":59.78},{"d":60,"t":59.7},{"d":61,"t":59.67},{"d":63,"t":59.83},{"d":65,"t":60.03},{"d":67,"t":60.28},{"d":68,"t":60.57},{"d":69,"t":60.55},{"d":71,"t":60.6},{"d":72,"t":60.57},{"d":73,"t":60.46},{"d":74,"t":60.53},{"d":75,"t":60.46},{"d":77,"t":60.37},{"d":78,"t":60.83},{"d":81,"t":61.33},{"d":83,"t":61.46},{"d":84,"t":61.41},{"d":86,"t":61.55},{"d":88,"t":61.82},{"d":90,"t":61.92},{"d":92,"t":61.99},{"d":93,"t":62.11},{"d":94,"t":62.05},{"d":97,"t":62.14},{"d":99,"t":62.26},{"d":101,"t":62.39},{"d":102,"t":62.33},{"d":104,"t":62.44},{"d":105,"t":62.37},{"d":107,"t":62.55},{"d":109,"t":62.57},{"d":110,"t":62.66},{"d":112,"t":62.75},{"d":113,"t":62.89},{"d":115,"t":62.9},{"d":116,"t":63.02},{"d":118,"t":63.17},{"d":120,"t":63.14},{"d":121,"t":63.32},{"d":122,"t":63.45},{"d":124,"t":63.68},{"d":125,"t":63.72},{"d":127,"t":63.7},{"d":128,"t":63.86},{"d":130,"t":63.98},{"d":131,"t":64.1},{"d":132,"t":64.32},{"d":133,"t":64.36},{"d":134,"t":64.23},{"d":136,"t":64.1},{"d":137,"t":64.09},{"d":138,"t":64.18},{"d":140,"t":64.07},{"d":141,"t":64.07},{"d":142,"t":64.27},{"d":143,"t":64.45},{"d":145,"t":64.59},{"d":146,"t":64.61},{"d":148,"t":64.72},{"d":150,"t":64.86},{"d":151,"t":64.95},{"d":153,"t":65.08},{"d":154,"t":65.18},{"d":156,"t":65.22},{"d":157,"t":65.36},{"d":159,"t":65.43},{"d":160,"t":65.36},{"d":162,"t":65.45},{"d":163,"t":65.36},{"d":165,"t":65.27},{"d":166,"t":65.34},{"d":167,"t":65.29},{"d":169,"t":65.4},{"d":170,"t":65.49},{"d":172,"t":65.65},{"d":173,"t":65.67},{"d":174,"t":65.58},{"d":175,"t":65.72},{"d":177,"t":65.61},{"d":178,"t":65.76},{"d":179,"t":65.83},{"d":180,"t":65.76},{"d":182,"t":65.72},{"d":184,"t":65.7}
    ],
    "today": [
      {"d":184,"t":65.7,"n":63.9}
    ]
  },
  "layer": [
    {
      "data": {"name": "others"},
      "mark": {"type": "line", "strokeWidth": 0.8, "opacity": 0.4},
      "encoding": {
        "x": {
          "field": "d", "type": "quantitative",
          "scale": {"domain": [1, 365], "nice": false, "zero": false},
          "axis": {
            "values": [15, 45, 74, 105, 135, 166, 196, 227, 258, 288, 319, 349],
            "labelExpr": "['J','F','M','A','M','J','J','A','S','O','N','D'][indexof([15,45,74,105,135,166,196,227,258,288,319,349], datum.value)]",
            "domain": false, "ticks": false, "grid": false,
            "labelFlush": false, "labelOverlap": false,
            "labelPadding": 15, "labelFontSize": 9, "labelColor": "#aaaaaa",
            "title": "Day of the year", "titleFontSize": 10, "titleColor": "#999999",
            "titleFontWeight": "normal", "titlePadding": 11
          }
        },
        "y": {
          "field": "t", "type": "quantitative",
          "scale": {"domain": [55.5, 66.5], "nice": false, "zero": false},
          "axis": {
            "values": [56, 58, 60, 62, 64, 66],
            "labelExpr": "datum.value == 66 ? '66°F' : datum.value + '°'",
            "domain": false, "ticks": false, "grid": true, "gridColor": "#f1f1f1",
            "labelPadding": 3, "labelFontSize": 9, "labelColor": "#b0b0b0",
            "title": "Average high", "titleAngle": 0, "titleX": 0, "titleY": 5,
            "titleAlign": "left", "titleBaseline": "middle",
            "titleFontSize": 10, "titleColor": "#999999", "titleFontWeight": "normal"
          }
        },
        "detail": {"field": "y"},
        "color": {
          "datum": "Other years", "type": "nominal",
          "scale": {
            "domain": ["This year", "Normal year", "Other years"],
            "range": ["#d84a10", "#0b7ad4", "#aaaaaa"]
          },
          "legend": {
            "orient": "none", "legendX": 288, "legendY": -37,
            "direction": "horizontal", "title": null,
            "symbolType": "stroke", "symbolStrokeWidth": 3, "symbolSize": 225,
            "symbolOpacity": 1, "labelFontSize": 11, "labelColor": "#999999",
            "labelOffset": 4, "columnPadding": 1
          }
        }
      }
    },
    {
      "data": {"name": "normal"},
      "mark": {"type": "line", "strokeWidth": 2.5, "interpolate": "monotone"},
      "encoding": {
        "x": {"field": "d", "type": "quantitative"},
        "y": {"field": "t", "type": "quantitative"},
        "color": {"datum": "Normal year", "type": "nominal"}
      }
    },
    {
      "data": {"name": "thisYear"},
      "mark": {"type": "line", "strokeWidth": 2.5, "strokeJoin": "round"},
      "encoding": {
        "x": {"field": "d", "type": "quantitative"},
        "y": {"field": "t", "type": "quantitative"},
        "color": {"datum": "This year", "type": "nominal"}
      }
    },
    {
      "data": {"name": "today"},
      "mark": {"type": "rule", "strokeDash": [3, 3], "strokeWidth": 1.6, "color": "#4a4a4a"},
      "encoding": {
        "x": {"field": "d", "type": "quantitative"},
        "y": {"field": "t", "type": "quantitative"},
        "y2": {"field": "n"}
      }
    },
    {
      "data": {"name": "today"},
      "mark": {"type": "rule", "strokeWidth": 1, "color": "#f0a784", "xOffset": 3, "yOffset": -3, "x2Offset": 12, "y2Offset": -13},
      "encoding": {
        "x": {"field": "d", "type": "quantitative"},
        "x2": {"field": "d"},
        "y": {"field": "t", "type": "quantitative"},
        "y2": {"field": "t"}
      }
    },
    {
      "data": {"name": "today"},
      "mark": {"type": "rule", "strokeWidth": 1, "color": "#86bbe8", "xOffset": 3, "yOffset": 3, "x2Offset": 12, "y2Offset": 13},
      "encoding": {
        "x": {"field": "d", "type": "quantitative"},
        "x2": {"field": "d"},
        "y": {"field": "n", "type": "quantitative"},
        "y2": {"field": "n"}
      }
    },
    {
      "data": {"name": "today"},
      "mark": {"type": "circle", "size": 75, "color": "#d84a10", "opacity": 1},
      "encoding": {
        "x": {"field": "d", "type": "quantitative"},
        "y": {"field": "t", "type": "quantitative"}
      }
    },
    {
      "data": {"name": "today"},
      "mark": {"type": "circle", "size": 75, "color": "#0b7ad4", "opacity": 1},
      "encoding": {
        "x": {"field": "d", "type": "quantitative"},
        "y": {"field": "n", "type": "quantitative"}
      }
    },
    {
      "data": {"name": "today"},
      "mark": {"type": "text", "text": ["Today's forecast", "65.7°F"], "align": "left", "baseline": "middle", "dx": 14, "dy": -32, "fontSize": 12, "lineHeight": 16, "color": "#d84a10"},
      "encoding": {
        "x": {"field": "d", "type": "quantitative"},
        "y": {"field": "t", "type": "quantitative"}
      }
    },
    {
      "data": {"name": "today"},
      "mark": {"type": "text", "text": ["Normal year", "63.9°F"], "align": "left", "baseline": "middle", "dx": 14, "dy": 17, "fontSize": 12, "lineHeight": 16, "color": "#0b7ad4"},
      "encoding": {
        "x": {"field": "d", "type": "quantitative"},
        "y": {"field": "n", "type": "quantitative"}
      }
    },
    {
      "data": {"name": "today"},
      "mark": {"type": "text", "text": "+1.7°", "align": "left", "baseline": "middle", "dx": 14, "dy": 34, "fontSize": 11, "color": "#333333"},
      "encoding": {
        "x": {"field": "d", "type": "quantitative"},
        "y": {"field": "t", "type": "quantitative"}
      }
    },
    {
      "data": {"name": "today"},
      "mark": {"type": "text", "text": "The average high worldwide is forecast to be", "align": "right", "baseline": "middle", "fontSize": 16, "color": "#505050"},
      "encoding": {"x": {"value": 513}, "y": {"value": -100}}
    },
    {
      "data": {"name": "today"},
      "mark": {"type": "text", "text": "65.7°F", "align": "left", "baseline": "middle", "fontSize": 16, "fontWeight": "bold", "color": "#d84a10"},
      "encoding": {"x": {"value": 517}, "y": {"value": -100}}
    },
    {
      "data": {"name": "today"},
      "mark": {"type": "text", "text": ", which", "align": "left", "baseline": "middle", "fontSize": 16, "color": "#505050"},
      "encoding": {"x": {"value": 565}, "y": {"value": -100}}
    },
    {
      "data": {"name": "today"},
      "mark": {"type": "text", "text": "is", "align": "left", "baseline": "middle", "fontSize": 16, "color": "#505050"},
      "encoding": {"x": {"value": 208}, "y": {"value": -74}}
    },
    {
      "data": {"name": "today"},
      "mark": {"type": "text", "text": "+1.7°", "align": "left", "baseline": "middle", "fontSize": 16, "fontWeight": "bold", "color": "#d84a10"},
      "encoding": {"x": {"value": 224}, "y": {"value": -74}}
    },
    {
      "data": {"name": "today"},
      "mark": {"type": "text", "text": "above the normal high for", "align": "left", "baseline": "middle", "fontSize": 16, "color": "#505050"},
      "encoding": {"x": {"value": 266}, "y": {"value": -74}}
    },
    {
      "data": {"name": "today"},
      "mark": {"type": "text", "text": "July 3", "align": "left", "baseline": "middle", "fontSize": 16, "fontWeight": "bold", "color": "#d84a10"},
      "encoding": {"x": {"value": 450}, "y": {"value": -74}}
    },
    {
      "data": {"name": "today"},
      "mark": {"type": "text", "text": "from 1961-1990.", "align": "left", "baseline": "middle", "fontSize": 16, "color": "#505050"},
      "encoding": {"x": {"value": 495}, "y": {"value": -74}}
    }
  ]
}
